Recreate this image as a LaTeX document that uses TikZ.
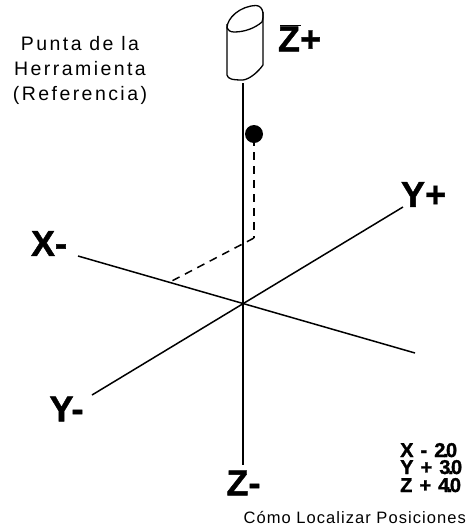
\documentclass[tikz,border=0pt]{standalone}
\usepackage{fontspec}
\setmainfont{Liberation Sans}
\newcommand{\tightnum}[2]{#1\kern-2.5pt.\kern-2.5pt#2}
\tikzset{
  axis/.style={line width=1.5pt,black},
  guide/.style={line width=1.5pt,black,dash pattern=on 8pt off 6pt},
  bigl/.style={inner sep=0pt,font=\fontsize{36}{36}\selectfont\bfseries\addfontfeature{FakeBold=1.2}},
  capt/.style={inner sep=0pt,font=\fontsize{19.5}{25}\selectfont\addfontfeature{LetterSpace=12.5},align=center},
  footcap/.style={inner sep=0pt,font=\fontsize{16.5}{20}\selectfont\addfontfeature{LetterSpace=6.4}},
  small/.style={inner sep=0pt,anchor=base west,font=\fontsize{20}{20}\selectfont\bfseries\addfontfeature{FakeBold=1.5}}
}
\begin{document}
\begin{tikzpicture}[x=1pt,y=-1pt]
\useasboundingbox (0,0) rectangle (466,531);
\coordinate (o) at (243,304);
\coordinate (ztop) at (243,83);
\coordinate (zbot) at (243,465);
\coordinate (xm) at (78,256);
\coordinate (xp) at (415,353);
\coordinate (yp) at (403,207);
\coordinate (ym) at (92,395);
\coordinate (d1) at (254,138);
\coordinate (d2) at (254,238);
\coordinate (d3) at (168,283);
\draw[axis] (ztop) -- (zbot);
\draw[axis] (xm) -- (xp);
\draw[axis] (ym) -- (yp);
\draw[guide] (d1) -- (d2);
\draw[guide] (d2) -- (d3);
\node[circle,fill=black,minimum size=18pt,inner sep=0pt] (pt) at (254,134) {};
% cylinder
\draw[line width=1.3pt,line join=round] (227,28)
  .. controls (227,18) and (240,6) .. (256,5.5)
  .. controls (264,6) and (264,16) .. (262,22)
  .. controls (255,28) and (245,32) .. (234,32)
  .. controls (230,32) and (228,30) .. (227,28) -- cycle;
\draw[line width=1.3pt,line join=round] (227,24) -- (227,75)
  .. controls (228,79) and (232,80) .. (243,80)
  .. controls (250,79) and (258,72) .. (263,65) -- (263,12);
\node[bigl,anchor=center] (zplus) at (299.5,39) {Z+};
\draw[line width=1.4pt] (280,25.5) -- (301,25.5);
\node[bigl,anchor=center] (xminus) at (49,243.5) {X-};
\node[bigl,anchor=center] (yplus) at (423.5,194.5) {Y+};
\node[bigl,anchor=center] (yminus) at (66.5,409) {Y-};
\node[bigl,anchor=center] (zminus) at (243.5,483) {Z-};
\node[capt] (tip) at (80,70.5) {Punta de la\\Herramienta\\(Referencia)};
\node[small] (valx) at (400,457) {X\kern1.5pt{} - \kern1.5pt\tightnum{2}{0}};
\node[small] (valy) at (400,474) {Y\kern1.5pt{} + \kern1.5pt\tightnum{3}{0}};
\node[small] (valz) at (400,492) {Z\kern1.5pt{} + \kern1.5pt\tightnum{4}{0}};
\node[footcap,anchor=east] (title) at (466,517) {Cómo Localizar Posiciones};
\end{tikzpicture}
\end{document}
